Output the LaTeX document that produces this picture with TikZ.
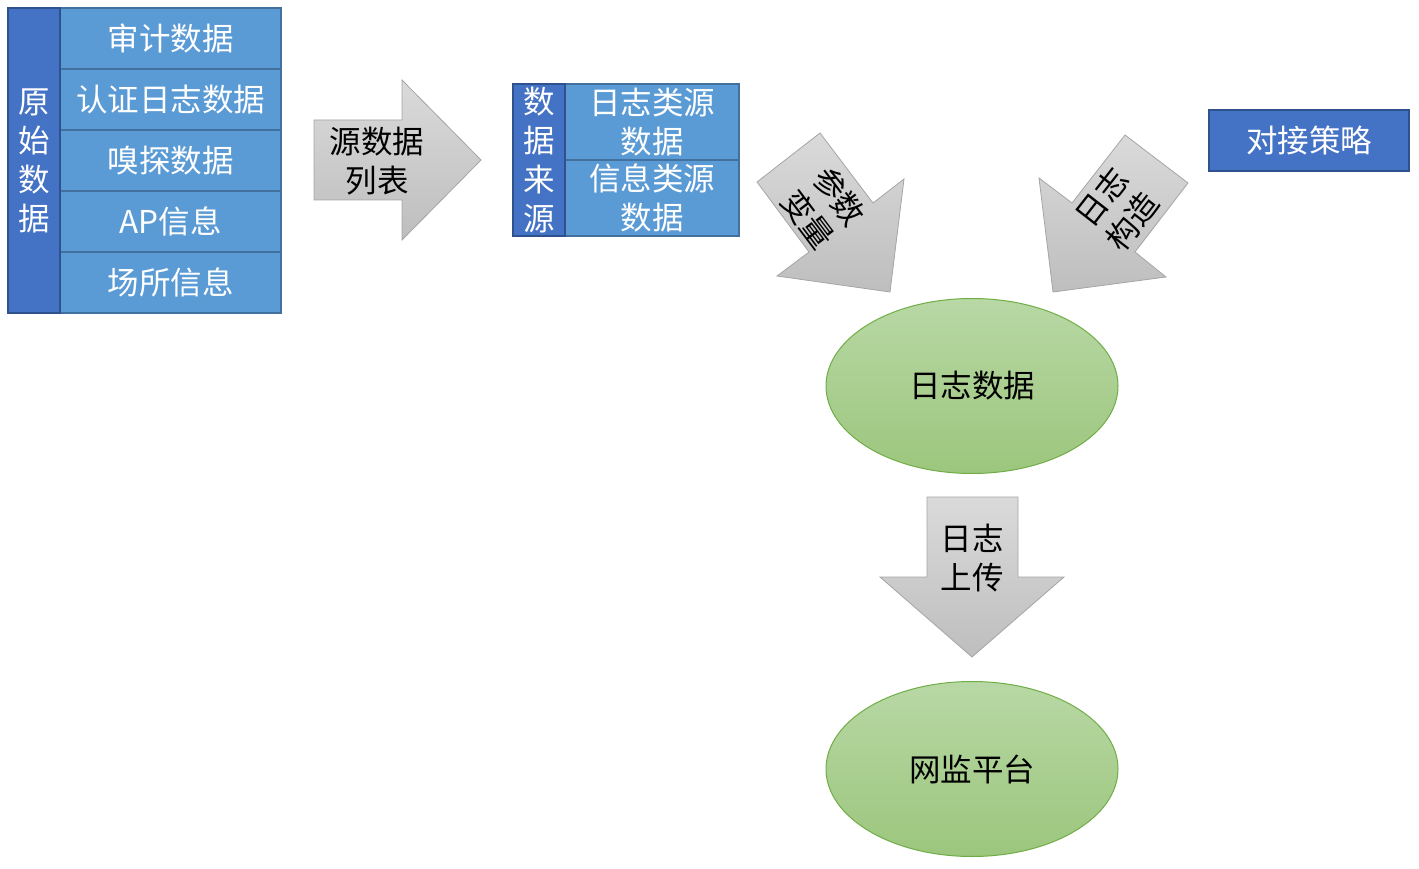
\documentclass[tikz,border=0pt]{standalone}
\usepackage{fontspec}
\newfontfamily\cjk{Noto Sans CJK SC}
\usetikzlibrary{shapes.geometric}
\definecolor{dblue}{HTML}{4472C4}
\definecolor{dborder}{HTML}{2F528F}
\definecolor{lblue}{HTML}{5B9BD5}
\definecolor{lborder}{HTML}{41719C}
\definecolor{gtop}{HTML}{DADADA}
\definecolor{gbot}{HTML}{BEBEBE}
\definecolor{gborder}{HTML}{A5A5A5}
\definecolor{eltop}{HTML}{B8D8A5}
\definecolor{elbot}{HTML}{9CC67D}
\definecolor{elborder}{HTML}{70AD47}
\tikzset{
  txt/.style={font=\cjk\fontsize{31.5}{39}\selectfont, align=center, inner sep=0pt},
  cell/.style={txt, rectangle, draw=lborder, fill=lblue, line width=1.3pt, text=white},
  headcell/.style={txt, rectangle, draw=dborder, fill=dblue, line width=1.3pt, text=white},
  blockarrow/.style={draw=gborder, top color=gtop, bottom color=gbot, line width=0.8pt},
  arrowtext/.style={txt, text=black},
  blob/.style={txt, ellipse, draw=elborder, top color=eltop, bottom color=elbot, line width=1pt, minimum width=292, minimum height=175, text=black}
}
\begin{document}
\begin{tikzpicture}[x=1pt,y=-1pt]
\useasboundingbox (0,0) rectangle (1419,869);
% original data block
\node[cell, minimum width=221, minimum height=61] (r1) at (170.5,38.5) {审计数据};
\node[cell, minimum width=221, minimum height=61] (r2) at (170.5,99.5) {认证日志数据};
\node[cell, minimum width=221, minimum height=61] (r3) at (170.5,160.5) {嗅探数据};
\node[cell, minimum width=221, minimum height=61] (r4) at (170.5,221.5) {AP信息};
\node[cell, minimum width=221, minimum height=61] (r5) at (170.5,282.5) {场所信息};
\node[headcell, minimum width=52, minimum height=305] (raw) at (34,160.5) {原\\始\\数\\据};
% arrow source list
\path[blockarrow] (314,120) -- (402,120) -- (402,80) -- (481,160) -- (402,240) -- (402,200) -- (314,200) -- cycle;
\node[arrowtext] (srclist) at (377,161) {源数据\\列表};
% data source block
\node[cell, minimum width=174, minimum height=76] (s1) at (652,122) {日志类源\\数据};
\node[cell, minimum width=174, minimum height=76] (s2) at (652,198) {信息类源\\数据};
\node[headcell, minimum width=52, minimum height=152] (src) at (539,160) {数\\据\\来\\源};
% strategy
\node[headcell, minimum width=200, minimum height=61] (strat) at (1309,140.5) {对接策略};
% diagonal arrow 1
\path[blockarrow] (757,182) -- (820,133) -- (873,203) -- (904,179) -- (890,292) -- (777,276) -- (809,252) -- cycle;
\node[arrowtext, rotate=-53] (param) at (824,208) {参数\\变量};
% diagonal arrow 2
\path[blockarrow] (1188,183) -- (1125,135) -- (1072,203) -- (1039,178) -- (1053,292) -- (1166,277) -- (1135,252) -- cycle;
\node[arrowtext, rotate=52] (build) at (1117,209) {日志\\构造};
% log data
\node[blob] (log) at (972,386) {日志数据};
% down arrow
\path[blockarrow] (927,497) -- (1018,497) -- (1018,577) -- (1064,577) -- (972,657) -- (880,577) -- (927,577) -- cycle;
\node[arrowtext] (upload) at (972,558) {日志\\上传};
% platform
\node[blob] (plat) at (972,769) {网监平台};
\end{tikzpicture}
\end{document}
